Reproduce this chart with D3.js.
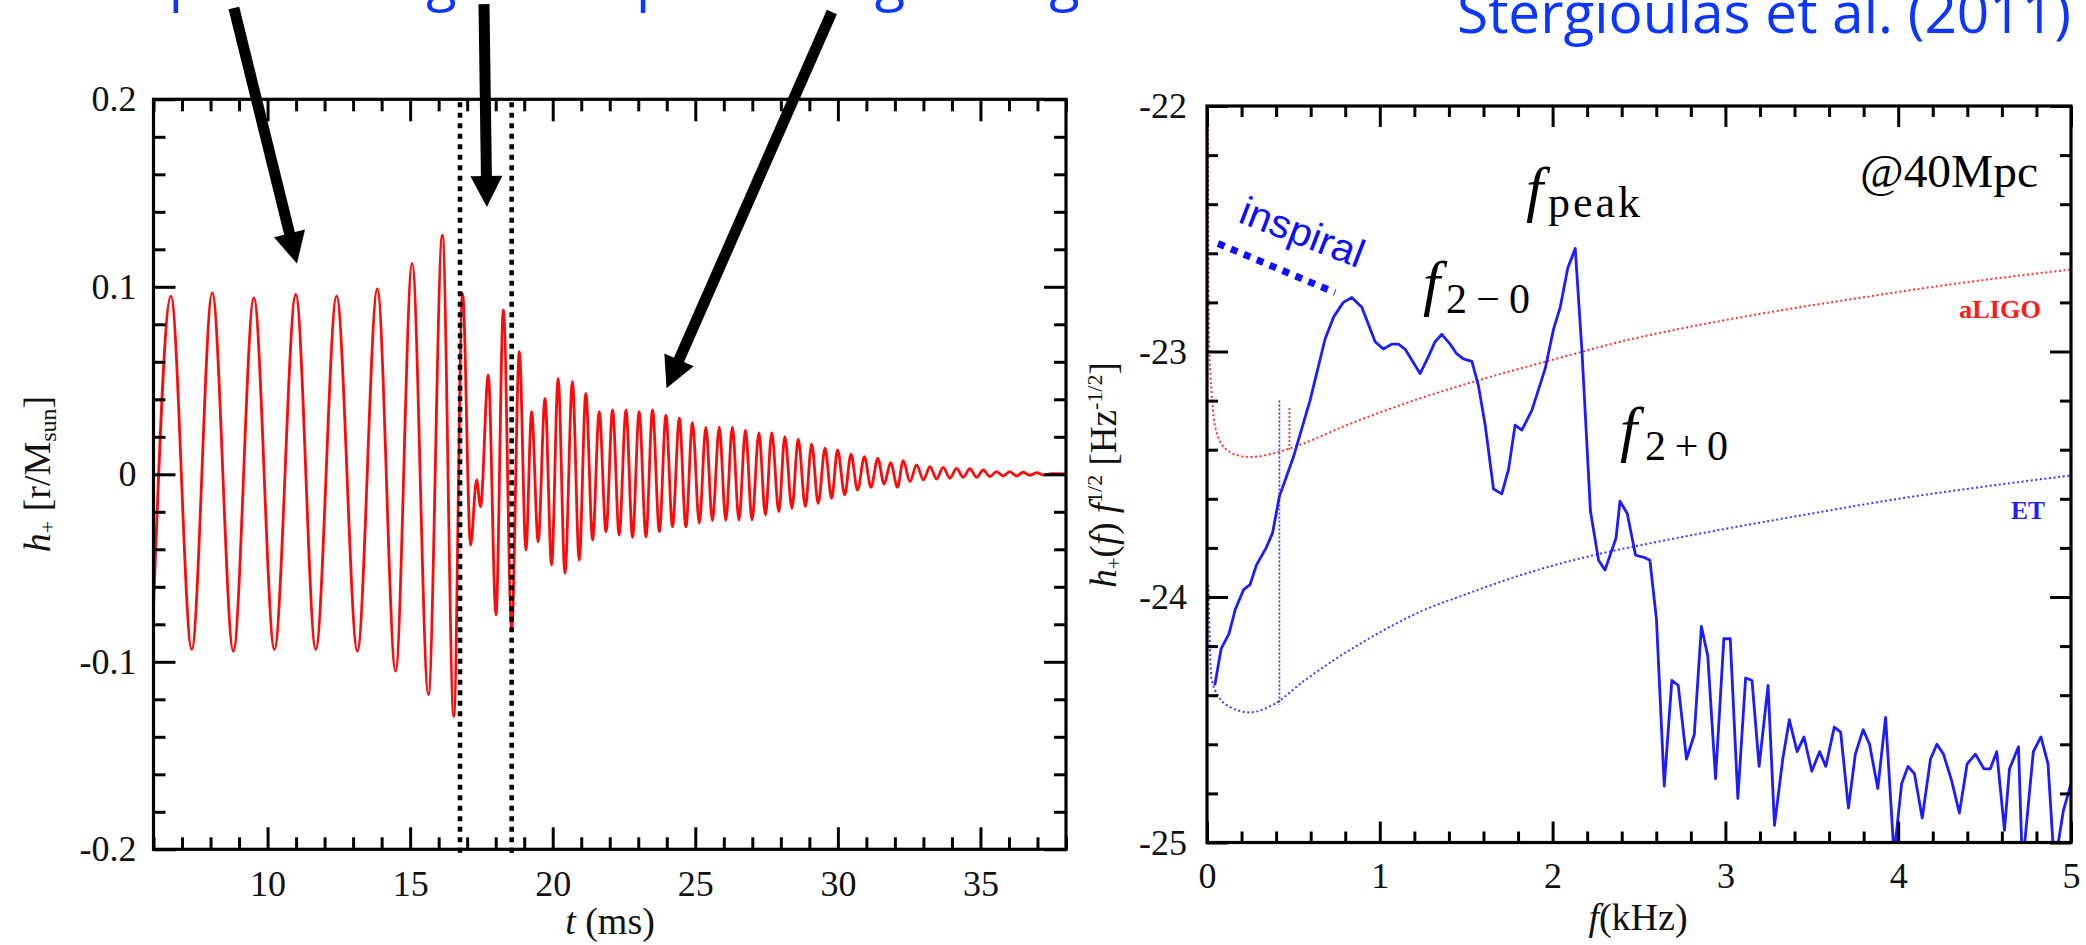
<!DOCTYPE html>
<html><head><meta charset="utf-8">
<script src="https://cdn.jsdelivr.net/npm/d3@7"></script>
<style>
html,body{margin:0;padding:0;background:#fff;}
svg{display:block;}
</style>
</head><body>
<svg id="chart" width="2086" height="945"></svg>
<script>
// ---------------- DATA ----------------
// Left panel: h+ waveform, read off as extrema [t (ms), h+]
const waveform = [
 [6.00,-0.071],[6.61,0.095],[7.34,-0.0934],[8.06,0.0968],[8.80,-0.0943],[9.52,0.0941],[10.24,-0.0934],
 [10.99,0.0959],[11.69,-0.0934],[12.42,0.0950],[13.15,-0.0943],[13.85,0.0989],[14.49,-0.1050],[15.07,0.1125],
 [15.64,-0.1175],[16.13,0.1276],[16.53,-0.1291],[16.84,0.0965],[17.12,-0.0377],[17.33,-0.0030],[17.47,-0.0173],
 [17.74,0.0530],[18.01,-0.0750],[18.27,0.0876],[18.56,-0.0822],[18.83,0.0654],[19.06,-0.0404],[19.26,0.0334],
 [19.49,-0.0359],[19.73,0.0405],[19.96,-0.0484],[20.19,0.0512],[20.43,-0.0528],[20.69,0.0494],[20.93,-0.0457],
 [21.16,0.0432],[21.40,-0.0350],[21.63,0.0334],[21.87,-0.0306],[22.10,0.0343],[22.33,-0.0324],[22.57,0.0343],
 [22.80,-0.0336],[23.03,0.0334],[23.27,-0.0333],[23.50,0.0343],[23.74,-0.0306],[23.97,0.0316],[24.20,-0.0280],
 [24.44,0.0299],[24.67,-0.0280],[24.90,0.0275],[25.14,-0.0261],[25.37,0.0250],[25.60,-0.0248],[25.84,0.0251],
 [26.07,-0.0246],[26.30,0.0252],[26.53,-0.0244],[26.76,0.0236],[26.99,-0.0244],[27.23,0.0222],[27.46,-0.0217],
 [27.68,0.0222],[27.93,-0.0199],[28.14,0.0201],[28.39,-0.0181],[28.61,0.0187],[28.86,-0.0172],[29.08,0.0162],
 [29.31,-0.0155],[29.55,0.0139],[29.78,-0.0128],[29.99,0.0130],[30.24,-0.0110],[30.46,0.0108],[30.69,-0.0084],
 [30.93,0.0094],[31.16,-0.0069],[31.40,0.0085],[31.62,-0.0052],[31.85,0.0062],[32.09,-0.0069],[32.29,0.0073],
 [32.53,-0.0039],[32.76,0.0050],[33.00,-0.0030],[33.23,0.0041],[33.46,-0.0025],[33.69,0.0037],[33.93,-0.0021],
 [34.16,0.0032],[34.40,-0.0016],[34.63,0.0030],[34.86,-0.0016],[35.10,0.0023],[35.33,-0.0012],[35.56,0.0014],
 [35.80,-0.0009],[36.03,0.0014],[36.26,-0.0009],[36.50,0.0011],[36.73,-0.0005],[36.97,0.0009],[37.20,-0.0004],
 [37.50,0.0003],[38.00,0.0002]
];
const dividerTimes = [16.75, 18.56];

// Right panel: spectrum log10(h+(f) f^1/2) vs f (kHz)
const spectrum = [
 [0.045,-24.36],[0.082,-24.21],[0.127,-24.15],[0.164,-24.05],[0.212,-23.97],[0.249,-23.95],[0.286,-23.87],
 [0.342,-23.80],[0.379,-23.74],[0.419,-23.59],[0.500,-23.43],[0.596,-23.20],[0.683,-22.95],[0.732,-22.86],
 [0.789,-22.80],[0.838,-22.78],[0.896,-22.82],[0.973,-22.96],[1.021,-22.99],[1.069,-22.97],[1.108,-22.97],
 [1.146,-22.99],[1.233,-23.09],[1.282,-23.02],[1.320,-22.96],[1.359,-22.93],[1.407,-22.97],[1.446,-23.01],
 [1.484,-23.03],[1.533,-23.04],[1.571,-23.14],[1.610,-23.30],[1.658,-23.56],[1.706,-23.58],[1.745,-23.48],
 [1.783,-23.30],[1.822,-23.32],[1.880,-23.24],[1.957,-23.07],[2.005,-22.91],[2.044,-22.82],[2.088,-22.66],
 [2.131,-22.58],[2.170,-23.00],[2.219,-23.65],[2.266,-23.85],[2.303,-23.89],[2.367,-23.76],[2.390,-23.61],
 [2.432,-23.66],[2.480,-23.83],[2.534,-23.84],[2.563,-23.85],[2.601,-24.09],[2.646,-24.77],[2.690,-24.34],
 [2.727,-24.36],[2.775,-24.66],[2.820,-24.56],[2.861,-24.12],[2.898,-24.24],[2.943,-24.74],[2.991,-24.17],
 [3.028,-24.17],[3.072,-24.82],[3.117,-24.33],[3.154,-24.34],[3.195,-24.69],[3.247,-24.36],[3.284,-24.93],
 [3.332,-24.66],[3.370,-24.50],[3.415,-24.63],[3.455,-24.57],[3.500,-24.71],[3.545,-24.63],[3.581,-24.69],
 [3.630,-24.53],[3.667,-24.55],[3.712,-24.86],[3.752,-24.64],[3.797,-24.54],[3.834,-24.60],[3.882,-24.78],
 [3.927,-24.49],[3.976,-25.05],[4.020,-24.76],[4.057,-24.69],[4.094,-24.72],[4.139,-24.90],[4.187,-24.66],
 [4.224,-24.60],[4.262,-24.64],[4.310,-24.75],[4.354,-24.88],[4.399,-24.68],[4.447,-24.64],[4.496,-24.70],
 [4.533,-24.70],[4.570,-24.63],[4.615,-24.95],[4.644,-24.70],[4.696,-24.61],[4.719,-25.10],[4.782,-24.63],
 [4.826,-24.57],[4.867,-24.68],[4.904,-25.10],[4.956,-24.87],[5.000,-24.76]
];
const aLIGO = [
 [0.006,-22.00],[0.008,-22.50],[0.012,-22.95],[0.027,-23.17],[0.056,-23.33],[0.114,-23.40],[0.191,-23.425],
 [0.249,-23.43],[0.384,-23.415],[0.519,-23.385],[0.809,-23.30],[1.195,-23.20],[1.581,-23.115],[1.967,-23.04],
 [2.394,-22.96],[3.015,-22.87],[3.792,-22.78],[4.375,-22.72],[5.000,-22.666]
];
const ET = [
 [0.008,-23.95],[0.015,-24.15],[0.025,-24.33],[0.063,-24.40],[0.138,-24.45],[0.249,-24.47],[0.379,-24.44],
 [0.565,-24.34],[0.750,-24.25],[0.973,-24.155],[1.233,-24.06],[1.494,-23.99],[1.865,-23.90],[2.237,-23.83],
 [2.608,-23.775],[2.980,-23.725],[3.500,-23.66],[4.000,-23.60],[4.500,-23.55],[5.000,-23.505]
];
const etMarker = [[0.419,-23.20],[0.419,-24.44]];
const ligoMarker = [[0.477,-23.23],[0.477,-23.40]];
const inspiralBar = [[0.064,-22.56],[0.741,-22.76]];

// Ticks / labels
const leftXMajor = [10,15,20,25,30,35];
const leftXLabels = ["10","15","20","25","30","35"];
const leftYMajor = [-0.2,-0.1,0,0.1,0.2];
const leftYLabels = ["-0.2","-0.1","0","0.1","0.2"];
const rightXMajor = [0,1,2,3,4,5];
const rightXLabels = ["0","1","2","3","4","5"];
const rightYMajor = [-25,-24,-23,-22];
const rightYLabels = ["-25","-24","-23","-22"];

// Annotation arrows (left-panel data coords): start -> tip
const arrowStarts = [[8.82,0.2487],[17.59,0.2508],[29.79,0.2466]];
const arrowTips   = [[11.03,0.1124],[17.69,0.1426],[23.99,0.0459]];

// ---------------- DRAW ----------------
const SERIF = "'Liberation Serif','Times New Roman',serif";
const SANS = "'Open Sans','Noto Sans',sans-serif";
const svg = d3.select("#chart");
svg.append("rect").attr("width",2086).attr("height",945).attr("fill","#fff");

const xL = d3.scaleLinear().domain([6,38]).range([153.5,1066]);
const yL = d3.scaleLinear().domain([-0.2,0.2]).range([849.3,99.3]);
const xR = d3.scaleLinear().domain([0,5]).range([1207,2071]);
const yR = d3.scaleLinear().domain([-25,-22]).range([842.5,106]);

const defs = svg.append("defs");
function clip(id,x,y){
  const [x0,x1]=x.range(), [y0,y1]=y.range();
  defs.append("clipPath").attr("id",id).append("rect")
    .attr("x",x0).attr("y",y1).attr("width",x1-x0).attr("height",y0-y1);
}
clip("clipL",xL,yL); clip("clipR",xR,yR);

function axes(x,y,xMaj,xLab,yMaj,yLab,majLen,minLen,xMinStep,yMinStep,padX,padY){
  const [x0,x1]=x.range(), [y0,y1]=y.range();
  const [dx0,dx1]=x.domain(), [dy0,dy1]=y.domain();
  const xMin = d3.range(Math.round(dx0/xMinStep), Math.round(dx1/xMinStep)+1).map(k=>+(k*xMinStep).toFixed(4))
      .filter(v=>!xMaj.some(m=>Math.abs(m-v)<1e-6));
  const yMin = d3.range(Math.round(dy0/yMinStep), Math.round(dy1/yMinStep)+1).map(k=>+(k*yMinStep).toFixed(4))
      .filter(v=>!yMaj.some(m=>Math.abs(m-v)<1e-6));
  const g = svg.append("g");
  const mk=(ax,tr)=>{const a=g.append("g").attr("transform",tr).call(ax); a.select(".domain").remove(); return a;};
  mk(d3.axisBottom(x).tickValues(xMaj).tickSize(-majLen).tickPadding(padX).tickFormat((d,i)=>xLab[i]),`translate(0,${y0})`);
  mk(d3.axisBottom(x).tickValues(xMin).tickSize(-minLen).tickFormat(""),`translate(0,${y0})`);
  mk(d3.axisTop(x).tickValues(xMaj).tickSize(-majLen).tickFormat(""),`translate(0,${y1})`);
  mk(d3.axisTop(x).tickValues(xMin).tickSize(-minLen).tickFormat(""),`translate(0,${y1})`);
  mk(d3.axisLeft(y).tickValues(yMaj).tickSize(-majLen).tickPadding(padY).tickFormat((d,i)=>yLab[i]),`translate(${x0},0)`);
  mk(d3.axisLeft(y).tickValues(yMin).tickSize(-minLen).tickFormat(""),`translate(${x0},0)`);
  mk(d3.axisRight(y).tickValues(yMaj).tickSize(-majLen).tickFormat(""),`translate(${x1},0)`);
  mk(d3.axisRight(y).tickValues(yMin).tickSize(-minLen).tickFormat(""),`translate(${x1},0)`);
  g.selectAll(".tick line").attr("stroke","#000").attr("stroke-width",3);
  g.selectAll(".tick text").attr("font-family",SERIF).attr("font-size",36).attr("fill","#111");
  g.append("rect").attr("x",x0).attr("y",y1).attr("width",x1-x0).attr("height",y0-y1)
    .attr("fill","none").attr("stroke","#000").attr("stroke-width",3.2);
  return g;
}

// ---- Left panel ----
svg.append("path").datum(waveform)
  .attr("clip-path","url(#clipL)")
  .attr("d", d3.line().x(d=>xL(d[0])).y(d=>yL(d[1])).curve(d3.curveMonotoneX))
  .attr("fill","none").attr("stroke","#ff0a0a").attr("stroke-width",2.8);

svg.selectAll(".divider").data(dividerTimes).enter().append("line")
  .attr("x1",d=>xL(d)).attr("x2",d=>xL(d)).attr("y1",yL(0.2)+3).attr("y2",yL(-0.2)+4)
  .attr("stroke","#000").attr("stroke-width",4.6).attr("stroke-dasharray","5,5.5");

axes(xL,yL,leftXMajor,leftXLabels,leftYMajor,leftYLabels,22,12,1,0.02,21,17);

// left axis titles
svg.append("text").attr("transform","translate(50,474) rotate(-90)").attr("text-anchor","middle")
  .attr("font-family",SERIF).attr("font-size",38).attr("fill","#111")
  .call(t=>{
    t.append("tspan").attr("font-style","italic").text("h");
    t.append("tspan").attr("font-size",22).attr("dy",5).text("+");
    t.append("tspan").attr("dy",-5).text(" [r/M");
    t.append("tspan").attr("font-size",24).attr("dy",6).text("sun");
    t.append("tspan").attr("dy",-6).text("]");
  });
svg.append("text").attr("x",610).attr("y",934).attr("text-anchor","middle")
  .attr("font-family",SERIF).attr("font-size",38).attr("fill","#111")
  .call(t=>{ t.append("tspan").attr("font-style","italic").text("t"); t.append("tspan").text(" (ms)"); });

// arrows
arrowStarts.forEach((s,i)=>{
  const p0=[xL(s[0]),yL(s[1])], p1=[xL(arrowTips[i][0]),yL(arrowTips[i][1])];
  const L=Math.hypot(p1[0]-p0[0],p1[1]-p0[1]), u=[(p1[0]-p0[0])/L,(p1[1]-p0[1])/L], n=[-u[1],u[0]];
  const head=31, hw=16;
  const b=[p1[0]-u[0]*head,p1[1]-u[1]*head];
  svg.append("line").attr("x1",p0[0]).attr("y1",p0[1]).attr("x2",b[0]+u[0]*2).attr("y2",b[1]+u[1]*2)
    .attr("stroke","#000").attr("stroke-width",11);
  svg.append("path").attr("d",`M${p1[0]},${p1[1]}L${b[0]+n[0]*hw},${b[1]+n[1]*hw}L${b[0]-n[0]*hw},${b[1]-n[1]*hw}Z`)
    .attr("fill","#000");
});

// ---- Right panel ----
const lineR = d3.line().x(d=>xR(d[0])).y(d=>yR(d[1]));
svg.append("path").datum(aLIGO).attr("clip-path","url(#clipR)")
  .attr("d", lineR.curve(d3.curveMonotoneX)(aLIGO))
  .attr("fill","none").attr("stroke","#ff3030").attr("stroke-width",2).attr("stroke-dasharray","2,2.6");
svg.append("path").datum(ET).attr("clip-path","url(#clipR)")
  .attr("d", lineR.curve(d3.curveMonotoneX)(ET))
  .attr("fill","none").attr("stroke","#3a3aff").attr("stroke-width",2).attr("stroke-dasharray","2,2.6");
lineR.curve(d3.curveLinear);
svg.append("path").attr("d",lineR(etMarker)).attr("fill","none").attr("stroke","#3a3aff")
  .attr("stroke-width",1.8).attr("stroke-dasharray","2,2");
svg.append("path").attr("d",lineR(ligoMarker)).attr("fill","none").attr("stroke","#ff3030")
  .attr("stroke-width",1.8).attr("stroke-dasharray","2,2");
svg.append("path").datum(spectrum).attr("clip-path","url(#clipR)")
  .attr("d", lineR(spectrum))
  .attr("fill","none").attr("stroke","#1c1cff").attr("stroke-width",2.8).attr("stroke-linejoin","round");

axes(xR,yR,rightXMajor,rightXLabels,rightYMajor,rightYLabels,21,11,0.2,0.2,20,20);

// right axis titles
svg.append("text").attr("transform","translate(1116,475) rotate(-90)").attr("text-anchor","middle")
  .attr("font-family",SERIF).attr("font-size",37).attr("fill","#111")
  .call(t=>{
    t.append("tspan").attr("font-style","italic").text("h");
    t.append("tspan").attr("font-size",21).attr("dy",5).text("+");
    t.append("tspan").attr("dy",-5).text("(");
    t.append("tspan").attr("font-style","italic").text("f");
    t.append("tspan").text(") ");
    t.append("tspan").attr("font-style","italic").text("f");
    t.append("tspan").attr("font-size",22).attr("dy",-14).text("1/2");
    t.append("tspan").attr("dy",14).text(" [Hz");
    t.append("tspan").attr("font-size",22).attr("dy",-14).text("-1/2");
    t.append("tspan").attr("dy",14).text("]");
  });
svg.append("text").attr("x",1638).attr("y",930).attr("text-anchor","middle")
  .attr("font-family",SERIF).attr("font-size",38).attr("fill","#111")
  .call(t=>{ t.append("tspan").attr("font-style","italic").text("f"); t.append("tspan").text("(kHz)"); });

// annotations in right panel
svg.append("path").attr("d",lineR(inspiralBar)).attr("fill","none").attr("stroke","#0d0dff")
  .attr("stroke-width",7).attr("stroke-dasharray","7,7");
svg.append("text").attr("transform",`translate(${xR(0.172)},${yR(-22.471)}) rotate(21)`)
  .attr("font-family","'Liberation Sans',Arial,sans-serif").attr("font-size",40).attr("fill","#0d0dff")
  .attr("textLength",130).attr("lengthAdjust","spacingAndGlyphs").text("inspiral");

function mathLabel(fx,fy,fs,sub,sx,sy,ss,slen){
  svg.append("text").attr("x",fx).attr("y",fy).attr("font-family",SERIF).attr("font-style","italic")
    .attr("font-size",fs).attr("fill","#000").text("f");
  svg.append("text").attr("x",sx).attr("y",sy).attr("font-family",SERIF).attr("font-size",ss)
    .attr("fill","#000").attr("textLength",slen).attr("lengthAdjust","spacing").text(sub);
}
mathLabel(1526,210,62,"peak",1548,217,44,92);
mathLabel(1423,304,62,"2\u22120",1446,313,42,84);
mathLabel(1620,450,62,"2+0",1645,460,42,83);

svg.append("text").attr("x",1860).attr("y",187).attr("font-family",SERIF).attr("font-size",46)
  .attr("fill","#000").attr("textLength",178).attr("lengthAdjust","spacingAndGlyphs").text("@40Mpc");
svg.append("text").attr("x",1959).attr("y",318).attr("font-family",SERIF).attr("font-weight","bold")
  .attr("font-size",26).attr("fill","#ff1a1a").attr("textLength",82).attr("lengthAdjust","spacingAndGlyphs").text("aLIGO");
svg.append("text").attr("x",2011).attr("y",519).attr("font-family",SERIF).attr("font-weight","bold")
  .attr("font-size",26).attr("fill","#2020ff").attr("textLength",34).attr("lengthAdjust","spacingAndGlyphs").text("ET");

// ---- top captions (cut off by the top edge, as in the original slide) ----
const BLUE = "#0a36ff";
svg.append("text").attr("x",1457).attr("y",33).attr("font-family",SANS).attr("font-size",56)
  .attr("fill",BLUE).attr("textLength",614).attr("lengthAdjust","spacingAndGlyphs").text("Stergioulas et al. (2011)");
[["Inspiral",92],["merger",320],["post-merger",636],["ringdown",978]].forEach(([s,x])=>{
  svg.append("text").attr("x",x).attr("y",-1).attr("font-family",SANS).attr("font-size",56).attr("fill",BLUE).text(s);
});
</script>
</body></html>
